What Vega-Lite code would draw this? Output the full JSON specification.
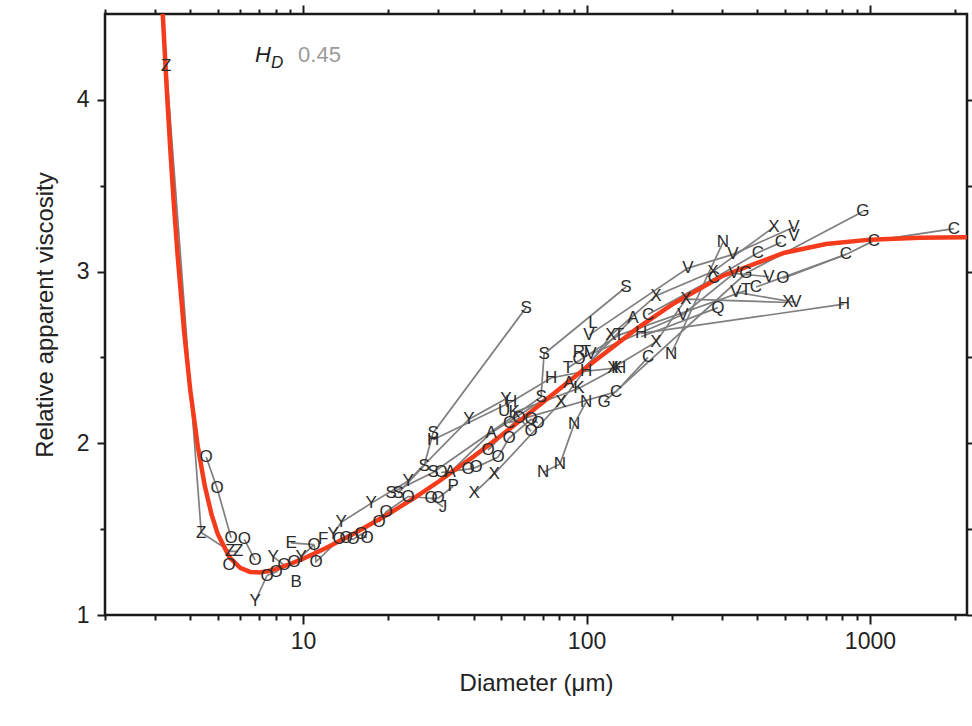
{
  "$schema": "https://vega.github.io/schema/vega-lite/v6.json",
  "width": 862,
  "height": 601,
  "autosize": {"type": "none"},
  "padding": {"left": 105, "top": 14, "right": 5, "bottom": 111},
  "background": "white",
  "config": {
    "view": {"stroke": "#1a1a1a", "strokeWidth": 2.5},
    "axis": {
      "grid": false, "domain": false,
      "labelFont": "Liberation Sans", "titleFont": "Liberation Sans",
      "labelFontSize": 23, "titleFontSize": 24,
      "labelColor": "#222", "titleColor": "#222", "titleFontWeight": "normal",
      "tickColor": "#1a1a1a", "tickWidth": 2,
      "labelOverlap": false, "labelFlush": false
    }
  },
  "datasets": {
    "pts": [
      {"s": "Z1", "t": "Z", "d": 3.29, "v": 4.20},
      {"s": "Z1", "t": "Z", "d": 4.37, "v": 1.48},
      {"s": "Z1", "t": "Z", "d": 5.53, "v": 1.37},
      {"s": "Z1", "t": "Z", "d": 5.90, "v": 1.37},
      {"s": "O1", "t": "O", "d": 4.55, "v": 1.92},
      {"s": "O1", "t": "O", "d": 4.97, "v": 1.74},
      {"s": "O1", "t": "O", "d": 5.57, "v": 1.45},
      {"s": "O2", "t": "O", "d": 6.20, "v": 1.44},
      {"s": "O2", "t": "O", "d": 6.77, "v": 1.32},
      {"s": "O3", "t": "O", "d": 5.48, "v": 1.29},
      {"s": "Y1", "t": "Y", "d": 6.77, "v": 1.08},
      {"s": "Y1", "t": "", "d": 7.46, "v": 1.23},
      {"s": "O4", "t": "O", "d": 7.46, "v": 1.23},
      {"s": "O4", "t": "O", "d": 8.03, "v": 1.25},
      {"s": "O4", "t": "O", "d": 8.57, "v": 1.29},
      {"s": "O4", "t": "O", "d": 9.30, "v": 1.31},
      {"s": "Y2", "t": "Y", "d": 7.84, "v": 1.34},
      {"s": "Y2", "t": "", "d": 8.57, "v": 1.29},
      {"s": "B1", "t": "B", "d": 9.45, "v": 1.19},
      {"s": "E1", "t": "E", "d": 9.07, "v": 1.42},
      {"s": "E1", "t": "", "d": 10.94, "v": 1.41},
      {"s": "Y3", "t": "Y", "d": 9.84, "v": 1.34},
      {"s": "Y3", "t": "", "d": 10.94, "v": 1.41},
      {"s": "O5", "t": "O", "d": 10.94, "v": 1.41},
      {"s": "O5", "t": "O", "d": 11.11, "v": 1.31},
      {"s": "O5", "t": "O", "d": 13.40, "v": 1.44},
      {"s": "O5", "t": "O", "d": 14.18, "v": 1.45},
      {"s": "O5", "t": "O", "d": 15.01, "v": 1.44},
      {"s": "O5", "t": "O", "d": 16.02, "v": 1.47},
      {"s": "O5", "t": "O", "d": 16.81, "v": 1.45},
      {"s": "F1", "t": "F", "d": 11.77, "v": 1.44},
      {"s": "Y4", "t": "Y", "d": 12.76, "v": 1.47},
      {"s": "Y4", "t": "Y", "d": 13.62, "v": 1.54},
      {"s": "Y4", "t": "Y", "d": 17.37, "v": 1.65},
      {"s": "Y4", "t": "Y", "d": 23.47, "v": 1.78},
      {"s": "Y4", "t": "Y", "d": 38.5, "v": 2.14},
      {"s": "Y4", "t": "Y", "d": 52.0, "v": 2.26},
      {"s": "O6", "t": "O", "d": 18.54, "v": 1.54},
      {"s": "O6", "t": "O", "d": 19.62, "v": 1.60},
      {"s": "O6", "t": "O", "d": 23.47, "v": 1.69},
      {"s": "O6", "t": "O", "d": 28.29, "v": 1.68},
      {"s": "O6", "t": "O", "d": 29.94, "v": 1.68},
      {"s": "Sa", "t": "S", "d": 21.63, "v": 1.71},
      {"s": "Sa", "t": "S", "d": 26.73, "v": 1.87},
      {"s": "Sa", "t": "S", "d": 28.75, "v": 2.06},
      {"s": "Sa", "t": "S", "d": 61.18, "v": 2.79},
      {"s": "Sb", "t": "S", "d": 20.44, "v": 1.71},
      {"s": "Sb", "t": "S", "d": 28.75, "v": 1.83},
      {"s": "Sb", "t": "S", "d": 69.11, "v": 2.27},
      {"s": "Sb", "t": "S", "d": 70.83, "v": 2.52},
      {"s": "Sb", "t": "S", "d": 137.8, "v": 2.91},
      {"s": "H1", "t": "H", "d": 28.75, "v": 2.02},
      {"s": "H1", "t": "H", "d": 54.16, "v": 2.24},
      {"s": "H1", "t": "H", "d": 74.95, "v": 2.38},
      {"s": "H1", "t": "H", "d": 99.59, "v": 2.42},
      {"s": "H1", "t": "H", "d": 131.3, "v": 2.44},
      {"s": "A1", "t": "A", "d": 33.0, "v": 1.83},
      {"s": "A1", "t": "A", "d": 46.04, "v": 2.06},
      {"s": "A1", "t": "A", "d": 86.76, "v": 2.35},
      {"s": "A1", "t": "A", "d": 145.9, "v": 2.73},
      {"s": "P1", "t": "", "d": 29.94, "v": 1.68},
      {"s": "P1", "t": "P", "d": 33.82, "v": 1.75},
      {"s": "J1", "t": "", "d": 28.29, "v": 1.68},
      {"s": "J1", "t": "J", "d": 31.18, "v": 1.63},
      {"s": "O7", "t": "O", "d": 30.68, "v": 1.83},
      {"s": "O7", "t": "O", "d": 38.19, "v": 1.85},
      {"s": "O7", "t": "O", "d": 40.76, "v": 1.86},
      {"s": "O7", "t": "O", "d": 48.74, "v": 1.92},
      {"s": "O7", "t": "O", "d": 53.29, "v": 2.03},
      {"s": "O7", "t": "O", "d": 63.71, "v": 2.14},
      {"s": "O7", "t": "O", "d": 67.44, "v": 2.12},
      {"s": "O8", "t": "O", "d": 44.94, "v": 1.96},
      {"s": "O8", "t": "O", "d": 57.80, "v": 2.15},
      {"s": "O8", "t": "O", "d": 63.71, "v": 2.07},
      {"s": "X1", "t": "X", "d": 40.11, "v": 1.71},
      {"s": "X1", "t": "X", "d": 47.18, "v": 1.82},
      {"s": "X1", "t": "X", "d": 81.29, "v": 2.24},
      {"s": "X1", "t": "X", "d": 122.0, "v": 2.63},
      {"s": "X1", "t": "X", "d": 175.9, "v": 2.86},
      {"s": "X1", "t": "X", "d": 279.3, "v": 3.00},
      {"s": "X1", "t": "X", "d": 458.5, "v": 3.26},
      {"s": "X2", "t": "X", "d": 124.0, "v": 2.44},
      {"s": "X2", "t": "X", "d": 175.9, "v": 2.59},
      {"s": "X2", "t": "X", "d": 224.4, "v": 2.84},
      {"s": "X2", "t": "X", "d": 513.8, "v": 2.82},
      {"s": "C1", "t": "C", "d": 53.29, "v": 2.12},
      {"s": "C1", "t": "C", "d": 127.1, "v": 2.30},
      {"s": "C1", "t": "C", "d": 164.8, "v": 2.50},
      {"s": "C2", "t": "C", "d": 164.8, "v": 2.75},
      {"s": "C2", "t": "C", "d": 281.6, "v": 2.96},
      {"s": "C2", "t": "C", "d": 402.6, "v": 3.11},
      {"s": "C2", "t": "C", "d": 485.4, "v": 3.17},
      {"s": "C3", "t": "C", "d": 396.1, "v": 2.91},
      {"s": "C3", "t": "C", "d": 823.0, "v": 3.10},
      {"s": "C3", "t": "C", "d": 1033, "v": 3.18},
      {"s": "C3", "t": "C", "d": 1978, "v": 3.25},
      {"s": "G1", "t": "G", "d": 115.3, "v": 2.24},
      {"s": "G1", "t": "G", "d": 365.2, "v": 2.99},
      {"s": "G1", "t": "G", "d": 944.7, "v": 3.35},
      {"s": "N1", "t": "N", "d": 70.25, "v": 1.83},
      {"s": "N1", "t": "N", "d": 80.62, "v": 1.88},
      {"s": "N1", "t": "N", "d": 90.35, "v": 2.11},
      {"s": "N1", "t": "N", "d": 99.59, "v": 2.24},
      {"s": "N2", "t": "N", "d": 198.7, "v": 2.52},
      {"s": "N2", "t": "N", "d": 303.0, "v": 3.17},
      {"s": "V1", "t": "V", "d": 102.0, "v": 2.63},
      {"s": "V1", "t": "V", "d": 228.0, "v": 3.02},
      {"s": "V1", "t": "V", "d": 328.6, "v": 3.10},
      {"s": "V1", "t": "V", "d": 539.5, "v": 3.26},
      {"s": "V2", "t": "V", "d": 103.7, "v": 2.52},
      {"s": "V2", "t": "V", "d": 219.0, "v": 2.75},
      {"s": "V2", "t": "V", "d": 331.3, "v": 2.99},
      {"s": "V2", "t": "V", "d": 440.2, "v": 2.97},
      {"s": "V3", "t": "V", "d": 336.7, "v": 2.88},
      {"s": "V3", "t": "V", "d": 548.3, "v": 2.82},
      {"s": "V4", "t": "V", "d": 539.5, "v": 3.21},
      {"s": "T1", "t": "T", "d": 86.05, "v": 2.44},
      {"s": "T1", "t": "T", "d": 130.2, "v": 2.63},
      {"s": "T1", "t": "T", "d": 365.2, "v": 2.89},
      {"s": "T2", "t": "T", "d": 99.59, "v": 2.53},
      {"s": "R1", "t": "R", "d": 94.08, "v": 2.53},
      {"s": "O9", "t": "O", "d": 94.08, "v": 2.49},
      {"s": "O10", "t": "O", "d": 493.3, "v": 2.96},
      {"s": "O10", "t": "", "d": 823.0, "v": 3.10},
      {"s": "K1", "t": "K", "d": 55.5, "v": 2.18},
      {"s": "K1", "t": "K", "d": 94.08, "v": 2.32},
      {"s": "K1", "t": "K", "d": 128.1, "v": 2.44},
      {"s": "U1", "t": "U", "d": 51.17, "v": 2.19},
      {"s": "L1", "t": "L", "d": 105.4, "v": 2.70},
      {"s": "Q1", "t": "", "d": 155.7, "v": 2.62},
      {"s": "Q1", "t": "Q", "d": 290.9, "v": 2.79},
      {"s": "H2", "t": "H", "d": 155.7, "v": 2.64},
      {"s": "H2", "t": "H", "d": 809.6, "v": 2.81}
    ],
    "curve": [
      {"d": 3.0, "v": 5.493}, {"d": 3.1, "v": 4.957}, {"d": 3.2, "v": 4.487},
      {"d": 3.3, "v": 4.074}, {"d": 3.4, "v": 3.709}, {"d": 3.5, "v": 3.392},
      {"d": 3.6, "v": 3.114}, {"d": 3.8, "v": 2.657}, {"d": 4.0, "v": 2.307},
      {"d": 4.25, "v": 1.982}, {"d": 4.5, "v": 1.751}, {"d": 4.75, "v": 1.587},
      {"d": 5.0, "v": 1.471}, {"d": 5.5, "v": 1.335}, {"d": 6.0, "v": 1.274},
      {"d": 6.5, "v": 1.251}, {"d": 7.0, "v": 1.248}, {"d": 7.5, "v": 1.255},
      {"d": 8.0, "v": 1.267}, {"d": 9.0, "v": 1.297}, {"d": 10, "v": 1.328},
      {"d": 12, "v": 1.389}, {"d": 15, "v": 1.471}, {"d": 20, "v": 1.588},
      {"d": 25, "v": 1.688}, {"d": 30, "v": 1.776}, {"d": 40, "v": 1.924},
      {"d": 50, "v": 2.045}, {"d": 70, "v": 2.237}, {"d": 100, "v": 2.443},
      {"d": 150, "v": 2.666}, {"d": 200, "v": 2.808}, {"d": 300, "v": 2.973},
      {"d": 500, "v": 3.110}, {"d": 700, "v": 3.160}, {"d": 1000, "v": 3.186},
      {"d": 1500, "v": 3.197}, {"d": 2200, "v": 3.200}
    ],
    "annH": [{"d": 6.77, "v": 4.262, "t": "H"}],
    "annD": [{"d": 7.71, "v": 4.213, "t": "D"}],
    "annV": [{"d": 9.60, "v": 4.262, "t": "0.45"}]
  },
  "layer": [
    {
      "data": {"name": "pts"},
      "mark": {"type": "line", "color": "#7f7f7f", "strokeWidth": 1.7, "clip": true},
      "encoding": {
        "x": {
          "field": "d", "type": "quantitative",
          "scale": {"type": "log", "domain": [2, 2200], "nice": false},
          "axis": {
            "orient": "bottom", "title": "Diameter (\u03bcm)", "format": "d",
            "values": [2,3,4,5,6,7,8,9,10,20,30,40,50,60,70,80,90,100,200,300,400,500,600,700,800,900,1000,2000],
            "labelExpr": "datum.value == 10 || datum.value == 100 || datum.value == 1000 ? datum.label : ''",
            "tickSize": {"condition": {"test": "datum.value == 10 || datum.value == 100 || datum.value == 1000", "value": 9}, "value": 5},
            "labelPadding": 6, "titlePadding": 18
          }
        },
        "y": {
          "field": "v", "type": "quantitative",
          "scale": {"domain": [1, 4.5], "nice": false, "zero": false},
          "axis": {
            "orient": "left", "title": "Relative apparent viscosity", "format": "~g",
            "values": [1, 1.5, 2, 2.5, 3, 3.5, 4],
            "labelExpr": "datum.value % 1 == 0 ? datum.label : ''",
            "tickSize": {"condition": {"test": "datum.value % 1 == 0", "value": 8}, "value": 5},
            "labelPadding": 8, "titlePadding": 19
          }
        },
        "detail": {"field": "s", "type": "nominal"}
      }
    },
    {
      "data": {"name": "curve"},
      "mark": {"type": "line", "color": "#f43c1c", "strokeWidth": 4.5, "clip": true},
      "encoding": {
        "x": {"field": "d", "type": "quantitative", "scale": {"type": "log", "domain": [2, 2200], "nice": false}, "axis": null},
        "y": {"field": "v", "type": "quantitative", "scale": {"domain": [1, 4.5], "nice": false, "zero": false}, "axis": null}
      }
    },
    {
      "data": {"name": "pts"},
      "mark": {"type": "text", "font": "Liberation Sans", "fontSize": 17, "color": "#2b2b2b"},
      "encoding": {
        "x": {
          "field": "d", "type": "quantitative",
          "scale": {"type": "log", "domain": [2, 2200], "nice": false},
          "axis": {
            "orient": "top", "title": null, "labels": false,
            "values": [2,3,4,5,6,7,8,9,10,20,30,40,50,60,70,80,90,100,200,300,400,500,600,700,800,900,1000,2000],
            "tickSize": {"condition": {"test": "datum.value == 10 || datum.value == 100 || datum.value == 1000", "value": 9}, "value": 5}
          }
        },
        "y": {
          "field": "v", "type": "quantitative",
          "scale": {"domain": [1, 4.5], "nice": false, "zero": false},
          "axis": {
            "orient": "right", "title": null, "labels": false,
            "values": [1, 1.5, 2, 2.5, 3, 3.5, 4],
            "tickSize": {"condition": {"test": "datum.value % 1 == 0", "value": 8}, "value": 5}
          }
        },
        "text": {"field": "t"}
      }
    },
    {
      "data": {"name": "annH"},
      "mark": {"type": "text", "font": "Liberation Sans", "fontSize": 22, "fontStyle": "italic", "color": "#222", "align": "left", "baseline": "middle"},
      "encoding": {
        "x": {"field": "d", "type": "quantitative", "scale": {"type": "log", "domain": [2, 2200], "nice": false}, "axis": null},
        "y": {"field": "v", "type": "quantitative", "scale": {"domain": [1, 4.5], "nice": false, "zero": false}, "axis": null},
        "text": {"field": "t"}
      }
    },
    {
      "data": {"name": "annD"},
      "mark": {"type": "text", "font": "Liberation Sans", "fontSize": 17, "fontStyle": "italic", "color": "#222", "align": "left", "baseline": "middle"},
      "encoding": {
        "x": {"field": "d", "type": "quantitative", "scale": {"type": "log", "domain": [2, 2200], "nice": false}, "axis": null},
        "y": {"field": "v", "type": "quantitative", "scale": {"domain": [1, 4.5], "nice": false, "zero": false}, "axis": null},
        "text": {"field": "t"}
      }
    },
    {
      "data": {"name": "annV"},
      "mark": {"type": "text", "font": "Liberation Sans", "fontSize": 22, "color": "#9a9a9a", "align": "left", "baseline": "middle"},
      "encoding": {
        "x": {"field": "d", "type": "quantitative", "scale": {"type": "log", "domain": [2, 2200], "nice": false}, "axis": null},
        "y": {"field": "v", "type": "quantitative", "scale": {"domain": [1, 4.5], "nice": false, "zero": false}, "axis": null},
        "text": {"field": "t"}
      }
    }
  ],
  "resolve": {"axis": {"x": "independent", "y": "independent"}}
}
